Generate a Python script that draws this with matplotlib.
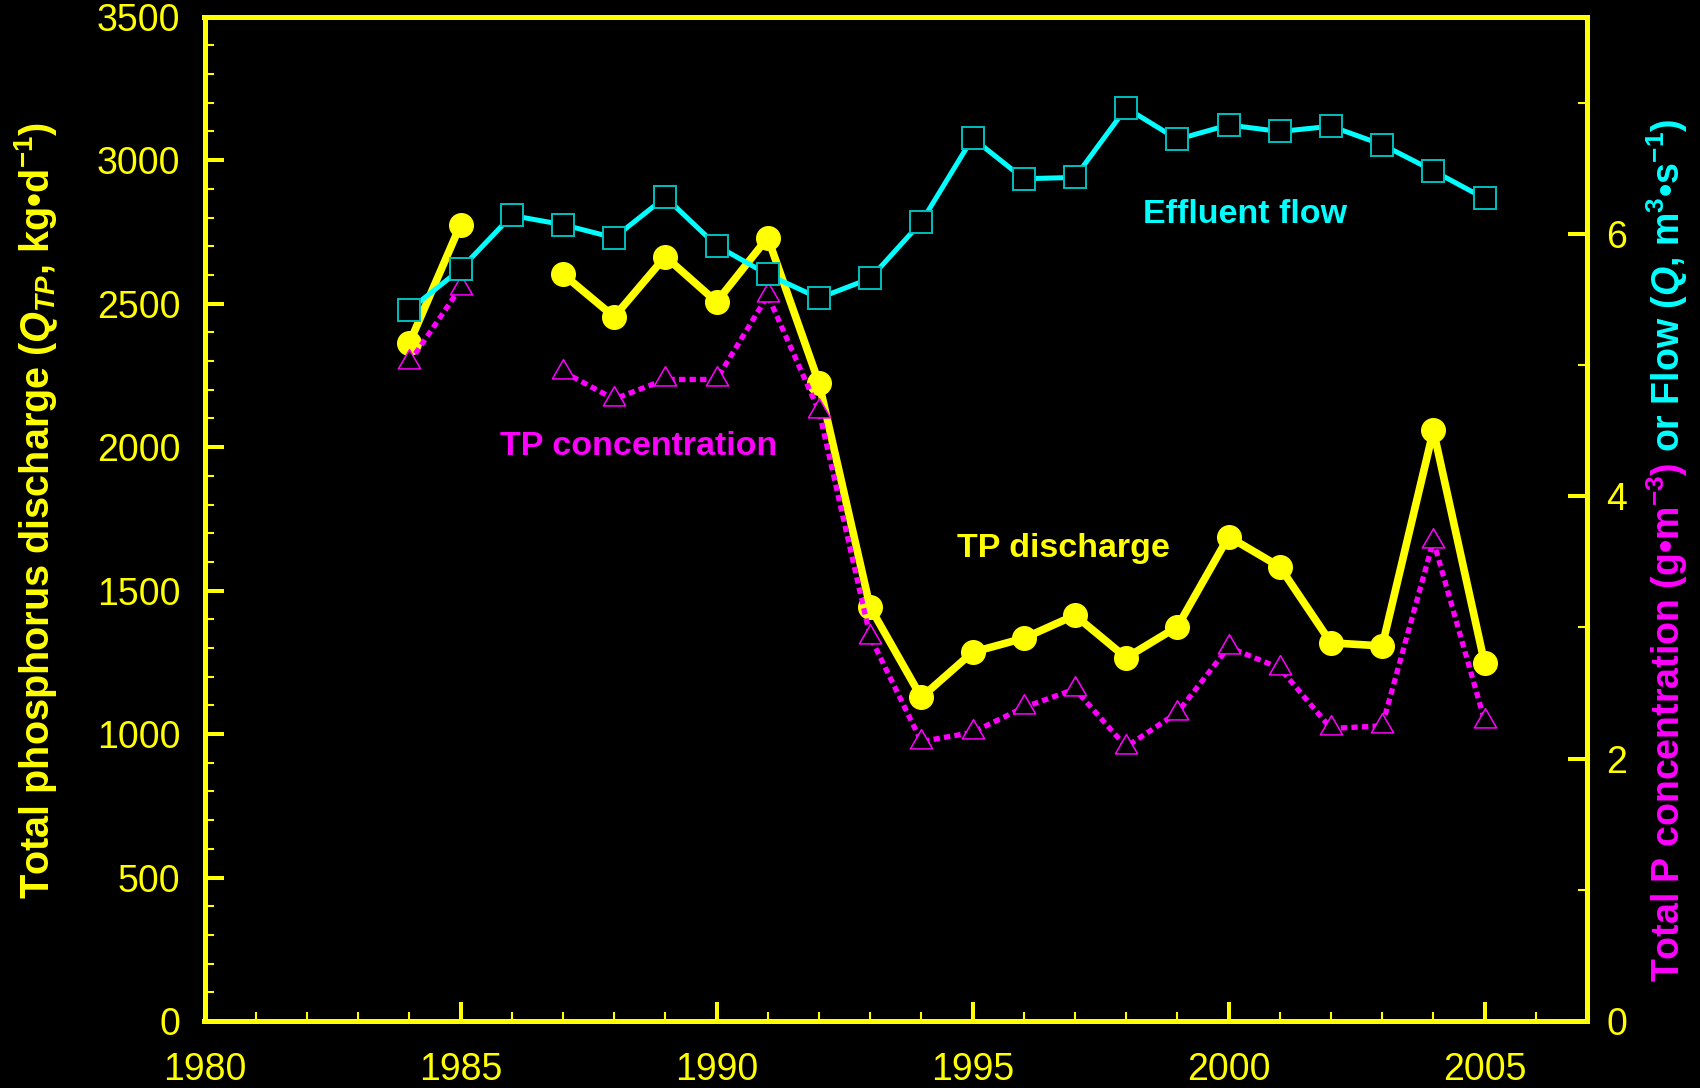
import numpy as np
import matplotlib
matplotlib.use("Agg")
import matplotlib.pyplot as plt
from matplotlib.ticker import MultipleLocator, FixedLocator
from matplotlib.path import Path

# ---------------- data ----------------
years = list(range(1984, 2006))
tp_discharge = [2362, 2775, np.nan, 2603, 2454, 2664, 2506, 2730, 2224, 1442, 1128,
                1285, 1334, 1414, 1266, 1374, 1688, 1583, 1318, 1307, 2058, 1247]
tp_conc = [5.02, 5.59, np.nan, 4.95, 4.74, 4.89, 4.89, 5.53, 4.65, 2.93, 2.13,
           2.20, 2.39, 2.53, 2.09, 2.35, 2.85, 2.69, 2.23, 2.25, 3.66, 2.29]
flow = [5.42, 5.73, 6.14, 6.07, 5.97, 6.28, 5.91, 5.69, 5.51, 5.66, 6.09,
        6.73, 6.42, 6.43, 6.96, 6.72, 6.83, 6.78, 6.82, 6.68, 6.48, 6.27]
x_ticks = [1980, 1985, 1990, 1995, 2000, 2005]
left_ticks = [0, 500, 1000, 1500, 2000, 2500, 3000, 3500]
right_ticks = [0, 2, 4, 6]

YEL = "#ffff00"
CYA = "#00ffff"
MAG = "#ff00ff"

plt.rcParams["font.family"] = ["Liberation Sans", "DejaVu Sans"]
plt.rcParams["mathtext.fontset"] = "custom"
plt.rcParams["mathtext.rm"] = "Liberation Sans:bold"
plt.rcParams["mathtext.it"] = "Liberation Sans:italic:bold"
plt.rcParams["mathtext.bf"] = "Liberation Sans:bold"

W, H = 1700, 1088
fig = plt.figure(figsize=(W / 100, H / 100), dpi=100, facecolor="black")
ax = fig.add_axes([204.5 / W, (H - 1021) / H, (1587 - 204.5) / W, (1021 - 16.7) / H])
ax.set_facecolor("black")
ax2 = ax.twinx()

ax.set_xlim(1980, 2007)
ax.set_ylim(0, 3500)
ax2.set_ylim(0, 7.655)

# ---------------- series ----------------
ax.plot(years, tp_discharge, color=YEL, lw=5.5, marker="o", ms=17,
        mfc=YEL, mec=YEL, zorder=2, clip_on=False)

tri = Path([(0, 1), (-0.866, -0.5), (0.866, -0.5), (0, 1)],
           [Path.MOVETO, Path.LINETO, Path.LINETO, Path.CLOSEPOLY])
ax2.plot(years, tp_conc, color=MAG, lw=3.8, linestyle=(0, (1.2, 0.8)),
         marker=tri, ms=18.5, mfc="black", mec=MAG, mew=1.1, zorder=3)
ax2.plot(years, flow, color=CYA, lw=3.6, marker="s", ms=15.6,
         mfc="black", mec="#00c0c0", mew=1.4, zorder=4)

# ---------------- axes styling ----------------
for a in (ax, ax2):
    for s in a.spines.values():
        s.set_color(YEL)
        s.set_linewidth(3.6)

ax.xaxis.set_major_locator(FixedLocator(x_ticks))
ax.xaxis.set_minor_locator(MultipleLocator(1))
ax.yaxis.set_major_locator(FixedLocator(left_ticks))
ax.yaxis.set_minor_locator(MultipleLocator(100))
ax2.yaxis.set_major_locator(FixedLocator(right_ticks))
ax2.yaxis.set_minor_locator(MultipleLocator(1))

for a in (ax, ax2):
    a.tick_params(which="major", direction="in", length=13.7, width=2.9,
                  color=YEL, labelcolor=YEL, labelsize=27)
    a.tick_params(which="minor", direction="in", length=6.8, width=1.5, color=YEL)
ax.tick_params(axis="x", which="major", pad=22)
ax.tick_params(axis="y", which="major", pad=17.5)
ax2.tick_params(axis="y", which="major", pad=13.7)

# ---------------- annotations ----------------
ax.text(1988.48, 1972, "TP concentration", color=MAG, fontsize=24.5,
        fontweight="bold", ha="center", va="baseline", zorder=6)
ax.text(1996.78, 1618, "TP discharge", color=YEL, fontsize=24.5,
        fontweight="bold", ha="center", va="baseline", zorder=6)
ax.text(2000.32, 2782, "Effluent flow", color=CYA, fontsize=24.5,
        fontweight="bold", ha="center", va="baseline", zorder=6)

# ---------------- axis labels ----------------
fig.text(49.5 / W, (H - 899) / H,
         r"Total phosphorus discharge ($Q_{TP}$, kg•d$^{-1}$)",
         rotation=90, rotation_mode="anchor", ha="left", va="baseline",
         color=YEL, fontsize=28.5, fontweight="bold")

rx = 1680 / W
ry = (H - 982) / H
t1 = fig.text(rx, ry, r"Total P concentration (g•m$^{-3}$)",
              rotation=90, rotation_mode="anchor", ha="left", va="baseline",
              color=MAG, fontsize=27, fontweight="bold")
fig.canvas.draw()
r = fig.canvas.get_renderer()
bb = t1.get_window_extent(renderer=r)
gap = 0.278 * 27 * 100 / 72
fig.text(rx, ry + (bb.height + gap) / H, r"or Flow ($Q$, m$^{3}$•s$^{-1}$)",
         rotation=90, rotation_mode="anchor", ha="left", va="baseline",
         color=CYA, fontsize=27, fontweight="bold")

fig.savefig("out.png", dpi=100, facecolor="black")
